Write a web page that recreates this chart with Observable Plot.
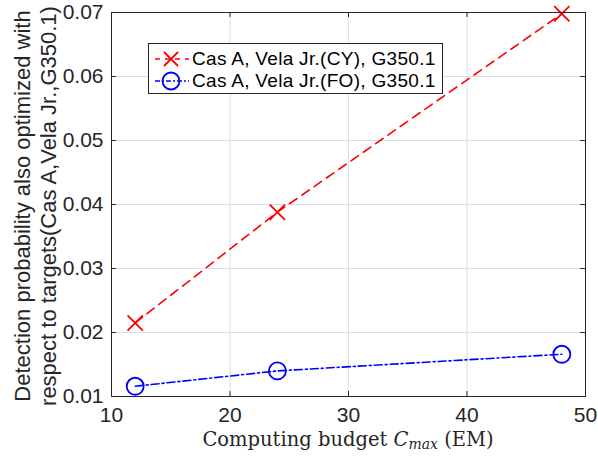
<!DOCTYPE html>
<html>
<head>
<meta charset="utf-8">
<script src="https://cdn.jsdelivr.net/npm/d3@7"></script>
<script src="https://cdn.jsdelivr.net/npm/@observablehq/plot@0.6"></script>
<style>
  html, body { margin: 0; padding: 0; background: #fff; }
  #wrap { position: relative; width: 598px; height: 457px; }
  #legend { position: absolute; left: 148px; top: 43px; width: 293px; height: 49px;
    background: #fff; border: 1px solid #262626; font-family: "Liberation Sans", Arial, sans-serif;
    font-size: 19px; letter-spacing: 0.3px; color: #000; }
  .row { position: absolute; left: 0; height: 24px; display: flex; align-items: center; }
  .row svg { margin-left: 6px; flex: none; }
  .row span { margin-left: 3px; white-space: nowrap; }
</style>
</head>
<body>
<div id="wrap"></div>
<script>
const budget = [12, 24, 48];
const cyValues = [0.0215, 0.0388, 0.0698];
const foValues = [0.0116, 0.0140, 0.0166];
const seriesNames = ["Cas A, Vela Jr.(CY), G350.1", "Cas A, Vela Jr.(FO), G350.1"];
const xTicks = [10, 20, 30, 40, 50];
const yTicks = [0.01, 0.02, 0.03, 0.04, 0.05, 0.06, 0.07];
const yLabelLines = ["Detection probability also optimized with", "respect to targets(Cas A,Vela Jr.,G350.1)"];

const cy = budget.map((x, i) => ({x, y: cyValues[i]}));
const fo = budget.map((x, i) => ({x, y: foValues[i]}));

const W = 598, H = 457, mL = 111, mR = 13, mT = 12, mB = 61;
const pw = W - mL - mR, ph = H - mT - mB;
const tk = 5;

const plot = Plot.plot({
  width: W, height: H,
  marginLeft: mL, marginRight: mR, marginTop: mT, marginBottom: mB,
  style: {fontFamily: "'Liberation Sans', Arial, sans-serif", fontSize: "21px", color: "#262626", background: "#fff"},
  x: {domain: [10, 50], ticks: xTicks, label: null},
  y: {domain: [0.01, 0.07], ticks: yTicks, label: null},
  marks: [
    Plot.gridX(xTicks, {stroke: "#dedede", strokeOpacity: 1}),
    Plot.gridY(yTicks, {stroke: "#dedede", strokeOpacity: 1}),
    Plot.line(cy, {x: "x", y: "y", stroke: "#ff0000", strokeWidth: 1.6, strokeDasharray: "9,6"}),
    Plot.dot(cy, {x: "x", y: "y", symbol: "times", r: 7, stroke: "#ff0000", strokeWidth: 1.8}),
    Plot.line(fo, {x: "x", y: "y", stroke: "#0000ff", strokeWidth: 1.6, strokeDasharray: "8,3,2,3"}),
    Plot.dot(fo, {x: "x", y: "y", symbol: "circle", r: 8.5, stroke: "#0000ff", strokeWidth: 1.8, fill: "none"}),
    Plot.tickX(xTicks, {x: d => d, stroke: "#262626", insetTop: ph - tk}),
    Plot.tickX(xTicks, {x: d => d, stroke: "#262626", insetBottom: ph - tk}),
    Plot.tickY(yTicks, {y: d => d, stroke: "#262626", insetRight: pw - tk}),
    Plot.tickY(yTicks, {y: d => d, stroke: "#262626", insetLeft: pw - tk}),
    Plot.frame({stroke: "#262626", strokeWidth: 1}),
    Plot.axisX(xTicks, {tickSize: 0, tickPadding: 11, tickFormat: d => String(d), fill: "#262626"}),
    Plot.axisY(yTicks, {tickSize: 0, tickPadding: 8, tickFormat: d => d.toFixed(2), fill: "#262626"})
  ]
});

const svg = d3.select(plot);
// x-axis label with italic C and subscript "max"
const xl = svg.append("text")
  .attr("x", 348).attr("y", 446)
  .attr("text-anchor", "middle")
  .attr("font-family", "'DejaVu Serif', 'Liberation Serif', serif")
  .attr("font-size", "19.5px").attr("fill", "#262626");
xl.append("tspan").text("Computing budget ");
xl.append("tspan").attr("font-style", "italic").text("C");
xl.append("tspan").attr("font-style", "italic").attr("font-size", "14px").attr("dy", "3").text("max");
xl.append("tspan").attr("dy", "-3").text(" (EM)");

// y-axis label, two lines
const yl = svg.append("text")
  .attr("transform", `translate(0,${mT + ph / 2 + 2}) rotate(-90)`)
  .attr("text-anchor", "middle")
  .attr("font-size", "22px").attr("fill", "#262626");
yl.append("tspan").attr("x", 0).attr("y", 30).text(yLabelLines[0]);
yl.append("tspan").attr("x", 0).attr("y", 56).text(yLabelLines[1]);

const wrap = document.getElementById("wrap");
wrap.appendChild(plot);

// legend
const legend = document.createElement("div");
legend.id = "legend";
function row(top, color, dash, kind, name) {
  const r = document.createElement("div");
  r.className = "row";
  r.style.top = top + "px";
  const marker = kind === "x"
    ? `<path d="M9,5 L23,19 M23,5 L9,19" stroke="${color}" stroke-width="1.8" fill="none"/>`
    : `<circle cx="16" cy="12" r="8.5" stroke="${color}" stroke-width="1.8" fill="none"/>`;
  r.innerHTML = `<svg width="34" height="24"><line x1="0" y1="12" x2="34" y2="12" stroke="${color}" stroke-width="1.6" stroke-dasharray="${dash}"/>${marker}</svg><span>${name}</span>`;
  legend.appendChild(r);
}
row(3, "#ff0000", "5,5", "x", seriesNames[0]);
row(25, "#0000ff", "5,2,2,2", "o", seriesNames[1]);
wrap.appendChild(legend);
</script>
</body>
</html>
